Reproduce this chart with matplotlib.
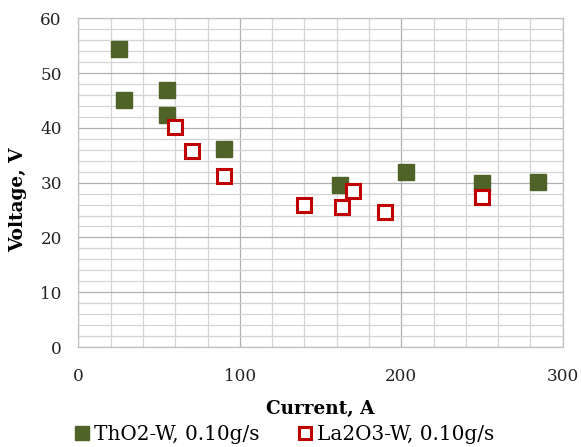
import matplotlib
matplotlib.use("Agg")
import matplotlib.pyplot as plt
from matplotlib.ticker import MultipleLocator

tho2_current = [25, 28, 55, 55, 90, 162, 203, 250, 285]
tho2_voltage = [54.4, 45.0, 46.9, 42.3, 36.1, 29.5, 31.9, 30.0, 30.2]
la2o3_current = [60, 70.5, 90.3, 140, 163.5, 170, 190, 250]
la2o3_voltage = [40.2, 35.8, 31.3, 26.0, 25.6, 28.5, 24.6, 27.3]

plt.rcParams['font.family'] = ['DejaVu Serif']

fig = plt.figure(figsize=(5.81, 4.47), dpi=100)
ax = fig.add_axes([0.135, 0.2237, 0.8335, 0.7353])

ax.set_xlim(0, 300)
ax.set_ylim(0, 60)
ax.xaxis.set_major_locator(MultipleLocator(100))
ax.xaxis.set_minor_locator(MultipleLocator(20))
ax.yaxis.set_major_locator(MultipleLocator(10))
ax.yaxis.set_minor_locator(MultipleLocator(2))
ax.grid(which='major', color='#b0b0b0', linewidth=0.9)
ax.grid(which='minor', color='#d4d4d4', linewidth=0.9)
ax.set_axisbelow(True)
ax.tick_params(which='both', length=0, labelsize=12.2, colors='#222222')
ax.tick_params(axis='x', pad=15)
ax.tick_params(axis='y', pad=12)
for s in ax.spines.values():
    s.set_color('#c0c0c0')
    s.set_linewidth(0.9)

ax.plot(tho2_current, tho2_voltage, linestyle='none', marker='s', markersize=11.5,
        markerfacecolor='#4f6228', markeredgecolor='#4f6228', label='ThO2-W, 0.10g/s')
ax.plot(la2o3_current, la2o3_voltage, linestyle='none', marker='s', markersize=9.5,
        markerfacecolor='white', markeredgecolor='#c00000', markeredgewidth=2.2,
        label='La2O3-W, 0.10g/s')

ax.set_xlabel('Current, A', fontsize=13.3, fontweight='bold')
ax.xaxis.set_label_coords(0.5, -0.16)
ax.set_ylabel('Voltage, V', fontsize=13.3, fontweight='bold')
ax.yaxis.set_label_coords(-0.105, 0.447)

fig.legend(loc='center', bbox_to_anchor=(0.49, 0.028), ncol=2, frameon=False,
           fontsize=14.4, handlelength=0.7, handletextpad=0.25, columnspacing=1.9,
           borderaxespad=0, markerscale=0.85)

fig.savefig('out.png', dpi=100)
